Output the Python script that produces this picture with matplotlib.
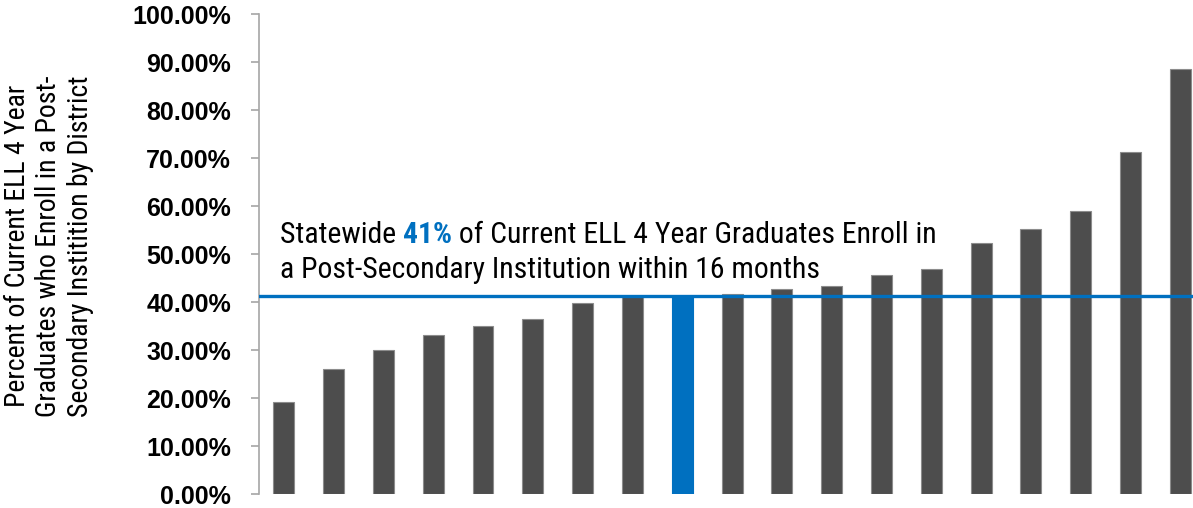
import matplotlib
matplotlib.use('Agg')
import matplotlib.pyplot as plt
import numpy as np
from matplotlib.ticker import FuncFormatter

# district enrolment rates (%), sorted ascending
districts = ['D%d' % i for i in range(1, 20)]
rates = [19.3, 26.1, 30.1, 33.2, 35.1, 36.5, 39.9, 41.4, 41.0, 41.8, 42.7,
         43.3, 45.6, 46.9, 52.4, 55.3, 59.1, 71.3, 88.6]
highlight = 8          # index of the highlighted district
statewide = 41.2

grey = '#4d4d4d'
blue = '#0070c0'
narrow = ['Roboto Condensed', 'DejaVu Sans']

fig = plt.figure(figsize=(11.93, 5.08), dpi=100)
ax = fig.add_axes([0.217, 0.027, 0.783, 0.945])

x = np.arange(len(rates))
colors = [blue if i == highlight else grey for i in range(len(rates))]
edges = [blue if i == highlight else '#8c8c8c' for i in range(len(rates))]
ax.bar(x, rates, width=0.42, color=colors, edgecolor=edges, linewidth=0.8, zorder=2)
ax.axhline(statewide, color=blue, linewidth=2.4, zorder=3)

ax.set_xlim(-0.5, 18.255)
ax.set_ylim(0, 100)
ax.set_yticks(np.arange(0, 101, 10))
ax.yaxis.set_major_formatter(FuncFormatter(lambda v, p: '%.2f%%' % v))
ax.set_xticks([])
for s in ['top', 'right', 'bottom']:
    ax.spines[s].set_visible(False)
ax.spines['left'].set_color('#a6a6a6')
ax.spines['left'].set_linewidth(1.2)
ax.tick_params(axis='y', direction='out', length=6, width=1.2, color='#a6a6a6', pad=14)
for lab in ax.get_yticklabels():
    lab.set_fontfamily(['Liberation Sans', 'DejaVu Sans'])
    lab.set_fontweight('bold')
    lab.set_fontsize(18)

fig.text(49 / 1193, 1 - 246 / 508,
         'Percent of Current ELL 4 Year\nGraduates who Enroll in a Post-\nSecondary Institition by District',
         rotation=90, ha='center', va='center', multialignment='center',
         fontsize=20, family=narrow, linespacing=1.22)

# annotation, first line in three colour pieces
fs = 21.4
t1 = ax.text(-0.08, 52.4, 'Statewide ', fontsize=fs, family=narrow, va='baseline', ha='left')
t2 = ax.annotate('41%', xy=(1, 0), xycoords=t1, va='bottom', ha='left',
                 fontsize=fs, family=narrow, fontweight='bold', color=blue)
t3 = ax.annotate(' of Current ELL 4 Year Graduates Enroll in', xy=(1, 0), xycoords=t2,
                 va='bottom', ha='left', fontsize=fs, family=narrow)
ax.text(-0.08, 45.1, 'a Post-Secondary Institution within 16 months', fontsize=fs,
        family=narrow, va='baseline', ha='left')

fig.savefig('out.png', dpi=100)
